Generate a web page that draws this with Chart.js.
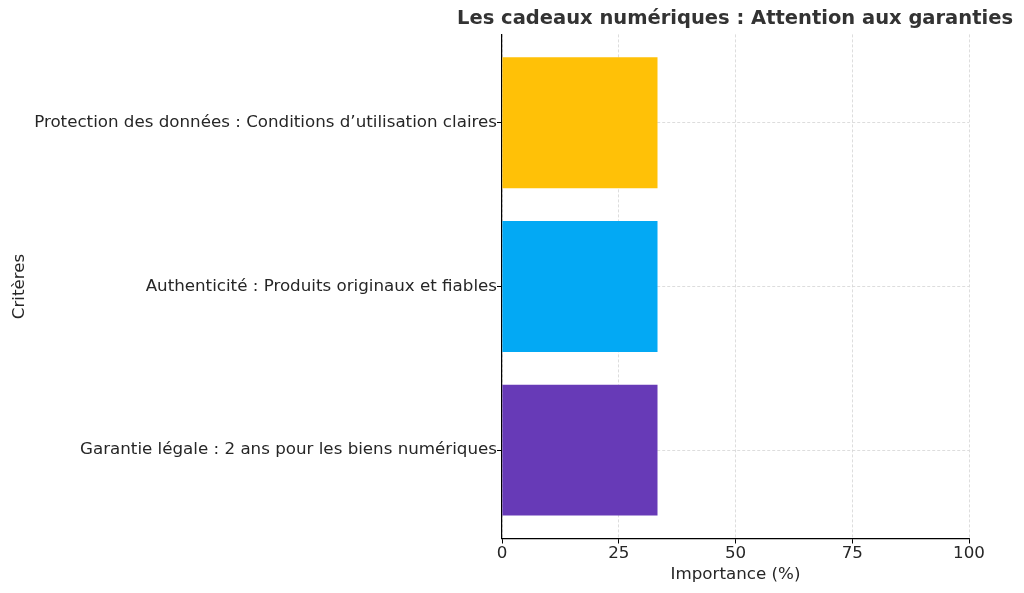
<!DOCTYPE html>
<html>
<head>
<meta charset="utf-8">
<script src="https://cdn.jsdelivr.net/npm/chart.js@4"></script>
<style>
html,body{margin:0;padding:0;background:#fff;}
#wrap{width:1024px;height:593px;}
</style>
</head>
<body>
<div id="wrap"><canvas id="c" width="1024" height="593"></canvas></div>
<script>
const categories = [
  "Garantie légale : 2 ans pour les biens numériques",
  "Authenticité : Produits originaux et fiables",
  "Protection des données : Conditions d’utilisation claires"
];
const values = [33.3, 33.3, 33.3];
const barColors = ["#673AB7", "#03A9F4", "#FFC107"];
const xTicks = [0, 25, 50, 75, 100];
const titleText = "Les cadeaux numériques : Attention aux garanties";
const xTitle = "Importance (%)";
const yTitle = "Critères";

const FONT = "'DejaVu Sans', sans-serif";
const TXT = "#262626";
const FS = 16.7;

const points = values.map((v, i) => ({ x: v, y: i }));

const gridOpts = { color: '#d4d4d4', lineWidth: 0.8, tickColor: '#000', tickLength: 5, tickBorderDash: [], tickWidth: 1, offset: false };

new Chart(document.getElementById('c'), {
  type: 'bar',
  data: {
    datasets: [{
      data: points,
      backgroundColor: barColors,
      borderWidth: 0,
      barPercentage: 0.8,
      categoryPercentage: 1.0
    }]
  },
  options: {
    indexAxis: 'y',
    responsive: false,
    animation: false,
    layout: { padding: { left: 10, right: 11, top: 0, bottom: 8 } },
    plugins: {
      legend: { display: false },
      tooltip: { enabled: false },
      title: {
        display: true,
        text: titleText,
        align: 'end',
        color: '#333333',
        font: { family: FONT, size: 19.5, weight: 'bold' },
        padding: { top: 7, bottom: 4 }
      }
    },
    scales: {
      x: {
        type: 'linear',
        min: 0,
        max: 100,
        z: 1,
        afterBuildTicks: s => { s.ticks = xTicks.map(v => ({ value: v })); },
        ticks: { color: TXT, font: { family: FONT, size: FS }, padding: 0, maxRotation: 0 },
        grid: gridOpts,
        border: { display: true, color: '#000', width: 1.2, dash: [3, 2] },
        title: { display: true, text: xTitle, color: TXT, font: { family: FONT, size: FS }, padding: { top: 1, bottom: 0 } },
        afterFit: s => { s.height = 593 - 538.5 - 8; }
      },
      y: {
        type: 'linear',
        min: -0.54,
        max: 2.54,
        offset: false,
        z: 1,
        afterBuildTicks: s => { s.ticks = categories.map((c, i) => ({ value: i })); },
        ticks: {
          color: TXT,
          font: { family: FONT, size: FS },
          padding: 0,
          callback: v => categories[v]
        },
        grid: gridOpts,
        border: { display: true, color: '#000', width: 1.2, dash: [3, 2] },
        title: { display: true, text: yTitle, color: TXT, font: { family: FONT, size: FS }, padding: { top: 0, bottom: 0 } },
        afterFit: s => { s.width = 502 - 10; }
      },
      yRight: {
        type: 'linear',
        position: 'right',
        display: true,
        grid: { display: false },
        ticks: { display: false },
        border: { display: false },
        afterFit: s => { s.width = 1024 - 11 - 969; }
      }
    }
  }
});
</script>
</body>
</html>
